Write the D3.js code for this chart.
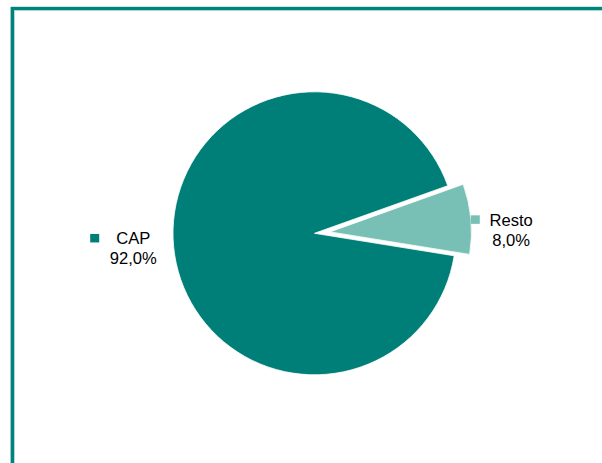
<!DOCTYPE html>
<html>
<head>
<meta charset="utf-8">
<script src="https://cdn.jsdelivr.net/npm/d3@7"></script>
<style>
  body { margin: 0; background: #fff; }
  svg text { font-family: "Liberation Sans", Arial, sans-serif; font-size: 16.6px; fill: #000; }
</style>
</head>
<body>
<svg class="chart"></svg>
<script>
var width = 602,
    height = 463;

// data
var categories = ["CAP", "Resto"];
var values = [92.0, 8.0];
var colors = ["#007f78", "#78bfb5"];

var cx = 314.5,
    cy = 233.3,
    radius = 141.5,
    explode = [0, 15.5],
    labelRadius = 182;

var svg = d3.select(".chart")
    .attr("width", width)
    .attr("height", height);

// frame
svg.append("rect")
    .attr("x", 12.3)
    .attr("y", 8.5)
    .attr("width", width)
    .attr("height", height)
    .attr("fill", "none")
    .attr("stroke", "#00837b")
    .attr("stroke-width", 3.4);
svg.append("rect")
    .attr("x", 14.5)
    .attr("y", 10.7)
    .attr("width", width)
    .attr("height", height)
    .attr("fill", "none")
    .attr("stroke", "#9fd3cc")
    .attr("stroke-width", 0.8);

var resto = values[1] / d3.sum(values) * 2 * Math.PI;
var restoStart = 70.35 * Math.PI / 180;

var pie = d3.pie()
    .sort(null)
    .value(function(d) { return d; })
    .startAngle(restoStart + resto)
    .endAngle(restoStart + resto + 2 * Math.PI);

var arc = d3.arc()
    .innerRadius(0)
    .outerRadius(radius);

var arcs = pie(values);

var g = svg.append("g")
    .attr("transform", "translate(" + cx + "," + cy + ")");

function offset(d, r) {
    var a = (d.startAngle + d.endAngle) / 2;
    return [Math.sin(a) * r, -Math.cos(a) * r];
}

g.selectAll(".slice")
    .data(arcs)
  .enter().append("path")
    .attr("class", "slice")
    .attr("transform", function(d, i) { return "translate(" + offset(d, explode[i]) + ")"; })
    .attr("d", arc)
    .attr("fill", function(d, i) { return colors[i]; })
    .attr("stroke", "#fff")
    .attr("stroke-width", 0.8);

// labels
var firstBaseline = [-5.7, 10.4],
    markerGap = [17, 9.7];

var labels = g.selectAll(".label")
    .data(arcs)
  .enter().append("g")
    .attr("class", "label")
    .attr("transform", function(d, i) {
        var p = offset(d, labelRadius + explode[i]);
        return "translate(" + p[0] + "," + (p[1] + firstBaseline[i]) + ")";
    });

labels.append("text")
    .attr("class", "cat")
    .attr("text-anchor", "middle")
    .text(function(d, i) { return categories[i]; });

labels.append("text")
    .attr("text-anchor", "middle")
    .attr("y", 20)
    .text(function(d, i) { return d3.format(".1f")(values[i]).replace(".", ",") + "%"; });

labels.each(function(d, i) {
    var t = d3.select(this).select(".cat");
    var w = t.node().getComputedTextLength();
    d3.select(this).append("rect")
        .attr("x", -w / 2 - markerGap[i] - 9)
        .attr("y", -10.3)
        .attr("width", 9)
        .attr("height", 8.5)
        .attr("fill", colors[i]);
});
</script>
</body>
</html>
